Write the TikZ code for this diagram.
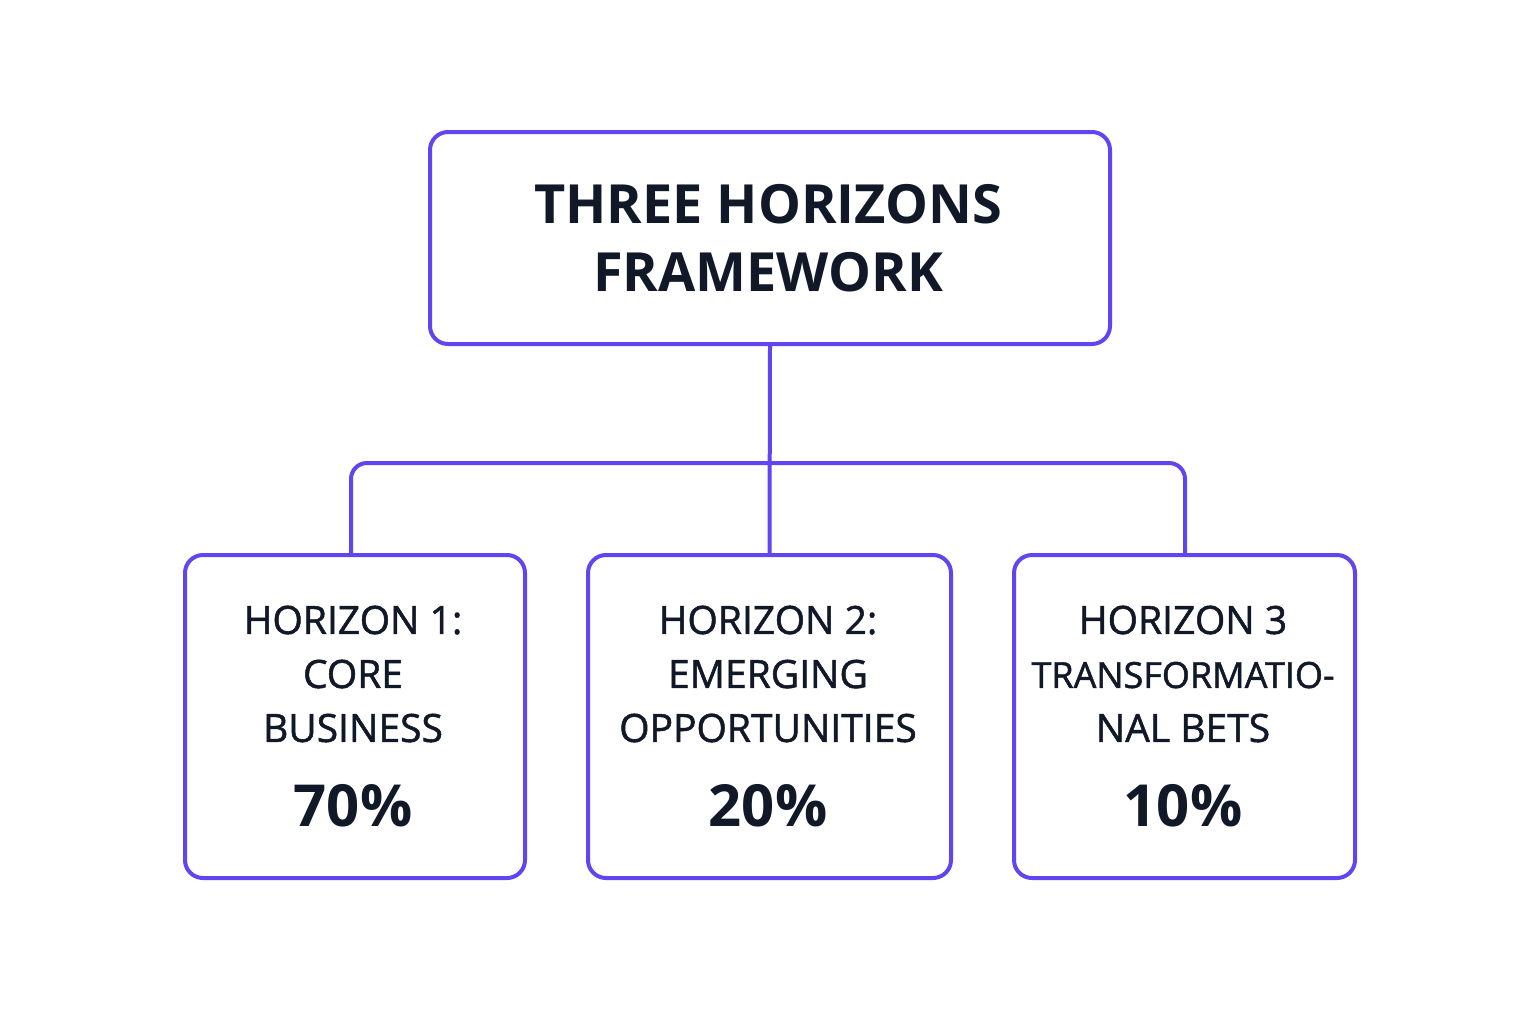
\documentclass[tikz,border=0pt]{standalone}
\usepackage{fontspec}
\setmainfont{Open Sans}
\newfontfamily\medfont[FakeBold=1.3]{Open Sans}
\definecolor{pur}{HTML}{6045F0}
\definecolor{txt}{HTML}{111827}
\begin{document}
\begin{tikzpicture}[x=0.5pt,y=-0.5pt,
  box/.style={draw=pur,line width=2pt,rounded corners=9pt,fill=white,anchor=north west,inner sep=0pt},
  conn/.style={draw=pur,line width=2pt,rounded corners=8pt},
  lab/.style={text=txt,align=center,font=\medfont\fontsize{19.5}{27}\selectfont},
  pct/.style={text=txt,font=\fontsize{29}{34}\selectfont\bfseries}]
\useasboundingbox[fill=white] (0,0) rectangle (1536,1024);
\node[box,minimum width=340pt,minimum height=106pt] (top) at (428,130) {};
\node[text=txt,align=center,font=\fontsize{27}{34}\selectfont\bfseries] (title) at (768,238) {THREE HORIZONS\\FRAMEWORK};
\node[box,minimum width=170pt,minimum height=161.5pt] (b1) at (183,553) {};
\node[box,minimum width=181.5pt,minimum height=161.5pt] (b2) at (586,553) {};
\node[box,minimum width=170.5pt,minimum height=161.5pt] (b3) at (1012,553) {};
\draw[conn] (top.south) -- (b2.north);
\draw[conn] (b1.north -| 351,0) -- (351,463) -- (1185,463) -- (b3.north -| 1185,0);
\node[lab] (t1) at (353,674) {HORIZON 1:\\CORE\\BUSINESS};
\node[lab] (t2) at (768,674) {HORIZON 2:\\EMERGING\\OPPORTUNITIES};
\node[lab] (t3) at (1183,674) {HORIZON 3\\{\fontsize{18}{27}\selectfont TRANSFORMATIO-}\\NAL BETS};
\node[pct] (p1) at (353,806) {70\%};
\node[pct] (p2) at (768,806) {20\%};
\node[pct] (p3) at (1183,806) {10\%};
\end{tikzpicture}
\end{document}
